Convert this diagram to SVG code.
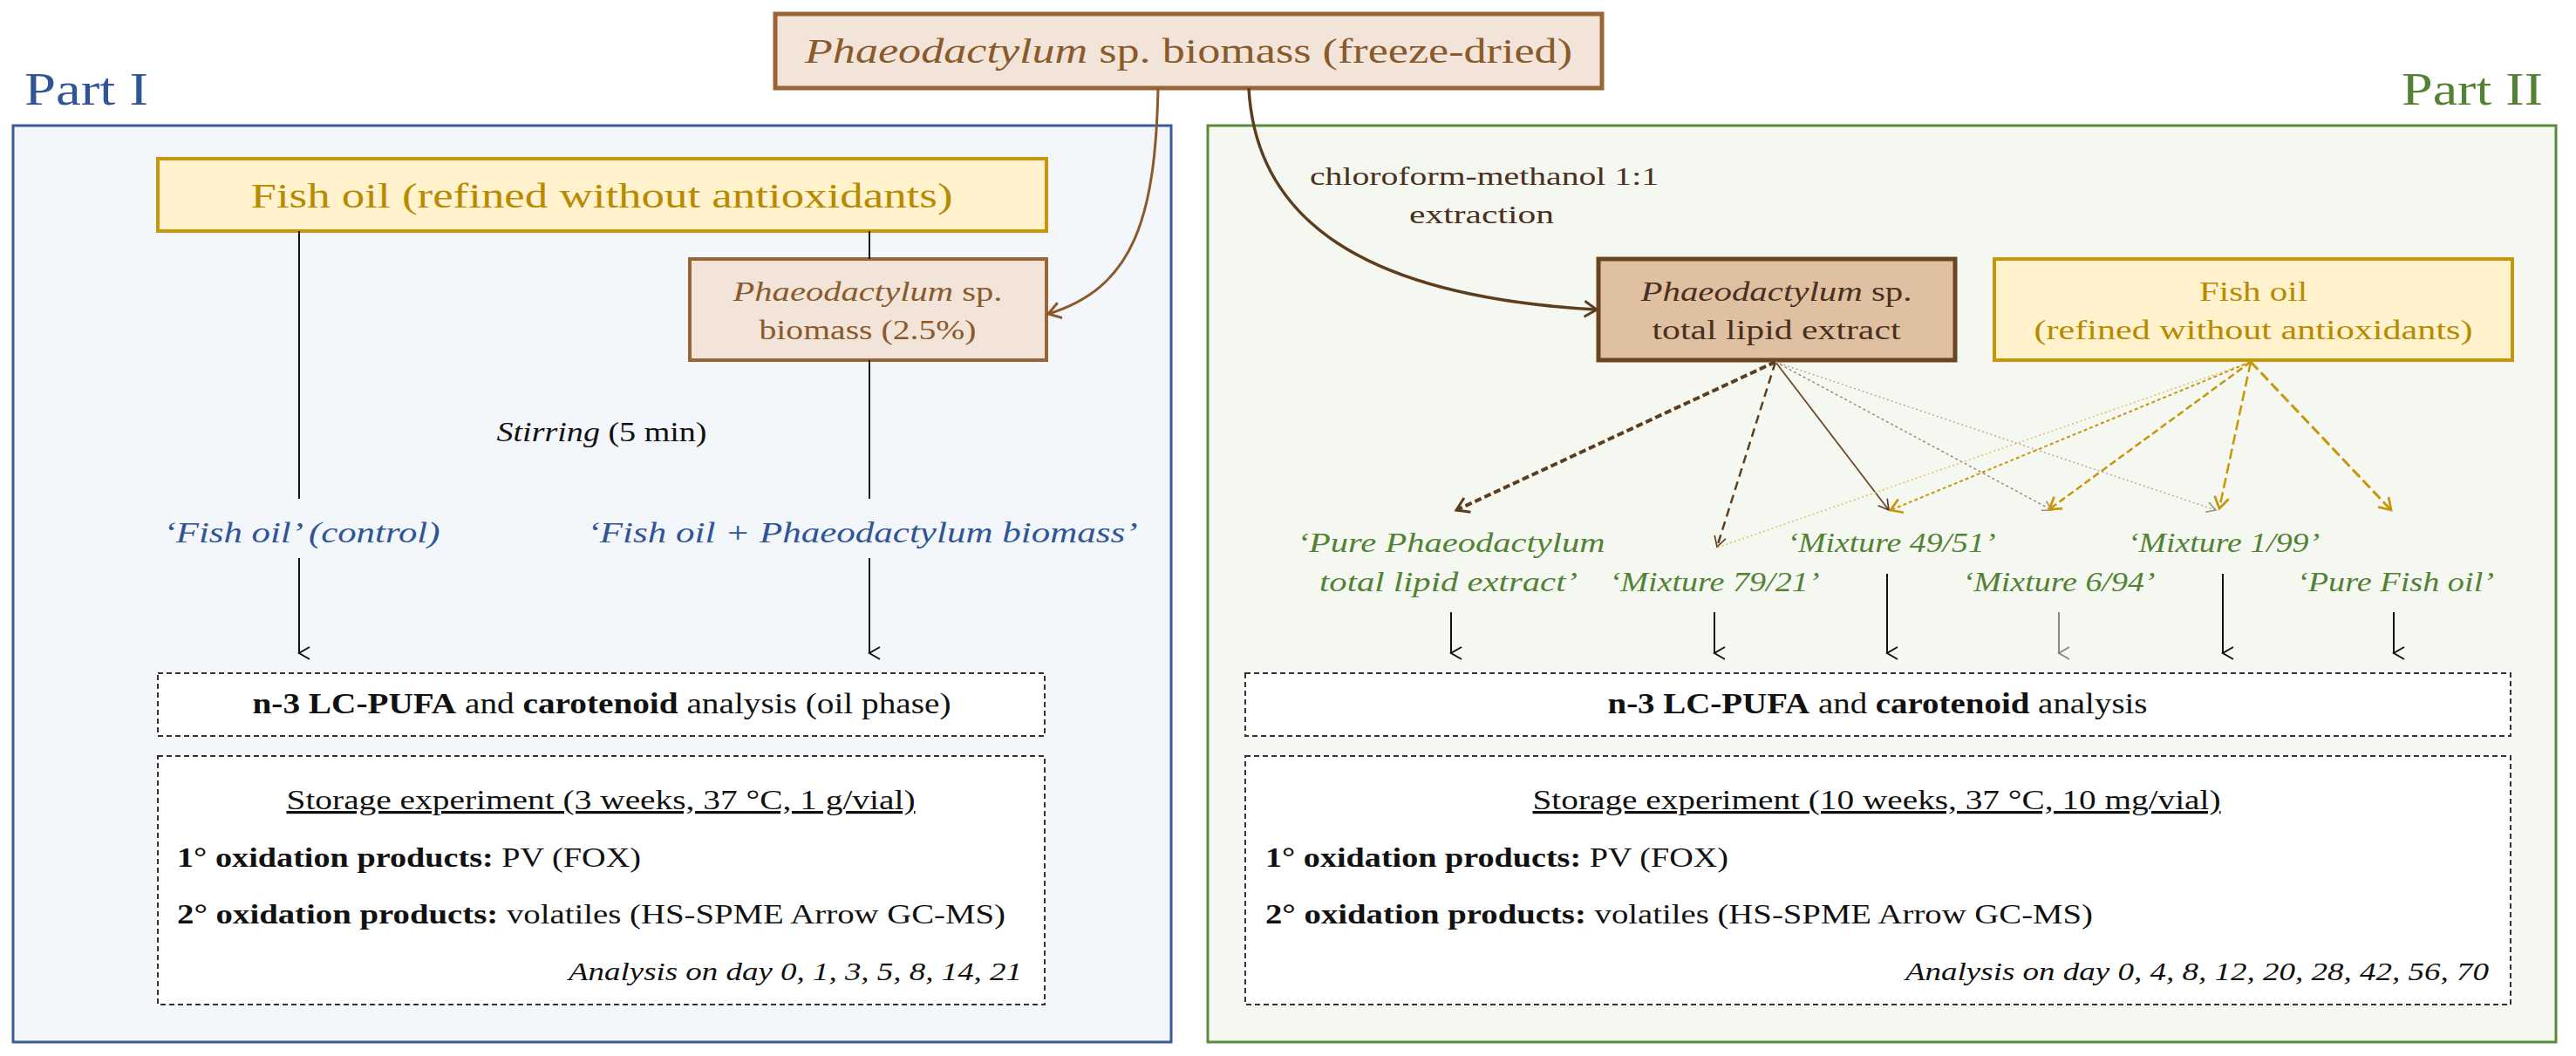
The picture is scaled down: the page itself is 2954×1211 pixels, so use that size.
<svg xmlns="http://www.w3.org/2000/svg" width="2954" height="1211" viewBox="0 0 2954 1211">
<defs>
<style>
text{font-family:"Liberation Serif","DejaVu Serif",serif}
.it{font-style:italic}
.b{font-weight:bold}
.brown{fill:#8b5a2b}
.gold{fill:#b88a00}
.blue{fill:#2f5597}
.green{fill:#548235}
.dk{fill:#4a3020}
.blk{fill:#111}
.dash{fill:#fff;stroke:#333;stroke-width:2;stroke-dasharray:6 4}
</style>
<marker id="aBlk" viewBox="0 0 20 20" refX="10" refY="18" markerWidth="20" markerHeight="20" markerUnits="userSpaceOnUse" orient="auto-start-reverse"><path d="M3,6 L10,18 L17,6" fill="none" stroke="#111" stroke-width="2"/></marker>
<marker id="aGry" viewBox="0 0 20 20" refX="10" refY="18" markerWidth="20" markerHeight="20" markerUnits="userSpaceOnUse" orient="auto"><path d="M3,6 L10,18 L17,6" fill="none" stroke="#888" stroke-width="2"/></marker>
<marker id="aBr" viewBox="0 0 24 24" refX="20" refY="12" markerWidth="24" markerHeight="24" markerUnits="userSpaceOnUse" orient="auto"><path d="M6,3 L20,12 L6,21" fill="none" stroke="#8b5a2b" stroke-width="3"/></marker>
<marker id="aDk" viewBox="0 0 24 24" refX="20" refY="12" markerWidth="24" markerHeight="24" markerUnits="userSpaceOnUse" orient="auto"><path d="M6,3 L20,12 L6,21" fill="none" stroke="#5c3d1e" stroke-width="3"/></marker>
<marker id="aDkS" viewBox="0 0 24 24" refX="20" refY="12" markerWidth="20" markerHeight="20" markerUnits="userSpaceOnUse" orient="auto"><path d="M6,4 L20,12 L6,20" fill="none" stroke="#5c3d1e" stroke-width="2"/></marker>
<marker id="aTan" viewBox="0 0 24 24" refX="20" refY="12" markerWidth="18" markerHeight="18" markerUnits="userSpaceOnUse" orient="auto"><path d="M6,4 L20,12 L6,20" fill="none" stroke="#9a8a7a" stroke-width="2"/></marker>
<marker id="aGd" viewBox="0 0 24 24" refX="20" refY="12" markerWidth="22" markerHeight="22" markerUnits="userSpaceOnUse" orient="auto"><path d="M6,3 L20,12 L6,21" fill="none" stroke="#c8960a" stroke-width="3"/></marker>
<marker id="aLt" viewBox="0 0 24 24" refX="20" refY="12" markerWidth="18" markerHeight="18" markerUnits="userSpaceOnUse" orient="auto"><path d="M6,4 L20,12 L6,20" fill="none" stroke="#e0c060" stroke-width="2"/></marker>
</defs>
<rect width="2954" height="1211" fill="#fff"/>

<g id="panel-left">
<rect x="15" y="144" width="1328" height="1051" fill="#f3f6fb" stroke="#3a5a9a" stroke-width="3"/>
<text x="28" y="120" font-size="52" class="blue" textLength="142" lengthAdjust="spacingAndGlyphs">Part I</text>
</g>
<g id="panel-right">
<rect x="1385" y="144" width="1546" height="1051" fill="#f5f8f1" stroke="#5a8a3a" stroke-width="3"/>
<text x="2916" y="120" font-size="52" text-anchor="end" fill="#548235" textLength="162" lengthAdjust="spacingAndGlyphs">Part II</text>
</g>

<g id="top-biomass">
<rect x="889" y="16" width="948" height="85" fill="#f2e4d8" stroke="#9a6535" stroke-width="5"/>
<text x="1363" y="72" font-size="40" text-anchor="middle" class="brown" textLength="880" lengthAdjust="spacingAndGlyphs"><tspan class="it">Phaeodactylum</tspan> sp. biomass (freeze-dried)</text>
</g>

<g id="fishoil-left">
<rect x="181" y="182" width="1019" height="83" fill="#fff2cc" stroke="#c8960a" stroke-width="4"/>
<text x="690" y="238" font-size="40" text-anchor="middle" class="gold" textLength="805" lengthAdjust="spacingAndGlyphs">Fish oil (refined without antioxidants)</text>
</g>

<g id="biomass-small">
<rect x="791" y="297" width="409" height="116" fill="#f2e4d8" stroke="#9a6535" stroke-width="4"/>
<text x="995" y="345" font-size="32" text-anchor="middle" class="brown" textLength="309" lengthAdjust="spacingAndGlyphs"><tspan class="it">Phaeodactylum</tspan> sp.</text>
<text x="995" y="389" font-size="32" text-anchor="middle" class="brown" textLength="249" lengthAdjust="spacingAndGlyphs">biomass (2.5%)</text>
</g>

<g id="stirring"><text x="690" y="506" font-size="32" text-anchor="middle" class="blk" textLength="241" lengthAdjust="spacingAndGlyphs"><tspan class="it">Stirring</tspan> (5 min)</text></g>

<g id="label-control"><text x="346" y="622" font-size="34" text-anchor="middle" class="blue it" textLength="317" lengthAdjust="spacingAndGlyphs">‘Fish oil’ (control)</text></g>
<g id="label-fob"><text x="989" y="622" font-size="34" text-anchor="middle" class="blue it" textLength="631" lengthAdjust="spacingAndGlyphs">‘Fish oil + Phaeodactylum biomass’</text></g>

<g id="analysis-left">
<rect x="181" y="772" width="1017" height="72" class="dash"/>
<text x="690" y="818" font-size="34" text-anchor="middle" class="blk" textLength="801" lengthAdjust="spacingAndGlyphs"><tspan class="b">n-3 LC-PUFA</tspan> and <tspan class="b">carotenoid</tspan> analysis (oil phase)</text>
</g>
<g id="storage-left">
<rect x="181" y="867" width="1017" height="285" class="dash"/>
<text x="689" y="928" font-size="32" text-anchor="middle" class="blk" text-decoration="underline" textLength="721" lengthAdjust="spacingAndGlyphs">Storage experiment (3 weeks, 37 °C, 1 g/vial)</text>
<text x="203" y="994" font-size="32" class="blk" textLength="532" lengthAdjust="spacingAndGlyphs"><tspan class="b">1° oxidation products:</tspan> PV (FOX)</text>
<text x="203" y="1059" font-size="32" class="blk" textLength="950" lengthAdjust="spacingAndGlyphs"><tspan class="b">2° oxidation products:</tspan> volatiles (HS-SPME Arrow GC-MS)</text>
<text x="1172" y="1124" font-size="30" text-anchor="end" class="blk it" textLength="520" lengthAdjust="spacingAndGlyphs">Analysis on day 0, 1, 3, 5, 8, 14, 21</text>
</g>

<g id="lipid-extract">
<rect x="1833" y="297" width="409" height="116" fill="#dfc0a0" stroke="#6b4423" stroke-width="5"/>
<text x="2037" y="345" font-size="32" text-anchor="middle" class="dk" textLength="311" lengthAdjust="spacingAndGlyphs"><tspan class="it">Phaeodactylum</tspan> sp.</text>
<text x="2037" y="389" font-size="32" text-anchor="middle" class="dk" textLength="285" lengthAdjust="spacingAndGlyphs">total lipid extract</text>
</g>
<g id="fishoil-right">
<rect x="2287" y="297" width="594" height="116" fill="#fff2cc" stroke="#c8960a" stroke-width="4"/>
<text x="2584" y="345" font-size="32" text-anchor="middle" class="gold" textLength="124" lengthAdjust="spacingAndGlyphs">Fish oil</text>
<text x="2584" y="389" font-size="32" text-anchor="middle" class="gold" textLength="503" lengthAdjust="spacingAndGlyphs">(refined without antioxidants)</text>
</g>

<g id="extraction-label">
<text x="1702" y="212" font-size="30" text-anchor="middle" fill="#4a3020" textLength="400" lengthAdjust="spacingAndGlyphs">chloroform-methanol 1:1</text>
<text x="1699" y="256" font-size="30" text-anchor="middle" fill="#4a3020" textLength="166" lengthAdjust="spacingAndGlyphs">extraction</text>
</g>

<g id="mix-labels" class="green it" font-size="32">
<text x="1664" y="633" text-anchor="middle" textLength="353" lengthAdjust="spacingAndGlyphs">‘Pure Phaeodactylum</text>
<text x="1661" y="678" text-anchor="middle" textLength="296" lengthAdjust="spacingAndGlyphs">total lipid extract’</text>
<text x="1966" y="678" text-anchor="middle" textLength="241" lengthAdjust="spacingAndGlyphs">‘Mixture 79/21’</text>
<text x="2169" y="633" text-anchor="middle" textLength="239" lengthAdjust="spacingAndGlyphs">‘Mixture 49/51’</text>
<text x="2361" y="678" text-anchor="middle" textLength="221" lengthAdjust="spacingAndGlyphs">‘Mixture 6/94’</text>
<text x="2550" y="633" text-anchor="middle" textLength="220" lengthAdjust="spacingAndGlyphs">‘Mixture 1/99’</text>
<text x="2747" y="678" text-anchor="middle" textLength="226" lengthAdjust="spacingAndGlyphs">‘Pure Fish oil’</text>
</g>

<g id="analysis-right">
<rect x="1428" y="772" width="1451" height="72" class="dash"/>
<text x="2153" y="818" font-size="34" text-anchor="middle" class="blk" textLength="619" lengthAdjust="spacingAndGlyphs"><tspan class="b">n-3 LC-PUFA</tspan> and <tspan class="b">carotenoid</tspan> analysis</text>
</g>
<g id="storage-right">
<rect x="1428" y="867" width="1451" height="285" class="dash"/>
<text x="2152" y="928" font-size="32" text-anchor="middle" class="blk" text-decoration="underline" textLength="789" lengthAdjust="spacingAndGlyphs">Storage experiment (10 weeks, 37 °C, 10 mg/vial)</text>
<text x="1451" y="994" font-size="32" class="blk" textLength="531" lengthAdjust="spacingAndGlyphs"><tspan class="b">1° oxidation products:</tspan> PV (FOX)</text>
<text x="1451" y="1059" font-size="32" class="blk" textLength="949" lengthAdjust="spacingAndGlyphs"><tspan class="b">2° oxidation products:</tspan> volatiles (HS-SPME Arrow GC-MS)</text>
<text x="2854" y="1124" font-size="30" text-anchor="end" class="blk it" textLength="669" lengthAdjust="spacingAndGlyphs">Analysis on day 0, 4, 8, 12, 20, 28, 42, 56, 70</text>
</g>

<g id="connectors" fill="none">
<!-- part I -->
<line x1="343" y1="265" x2="343" y2="572" stroke="#111" stroke-width="2"/>
<line x1="997" y1="265" x2="997" y2="297" stroke="#111" stroke-width="2"/>
<line x1="997" y1="413" x2="997" y2="572" stroke="#111" stroke-width="2"/>
<line x1="343" y1="640" x2="343" y2="749" stroke="#111" stroke-width="2" marker-end="url(#aBlk)"/>
<line x1="997" y1="640" x2="997" y2="749" stroke="#111" stroke-width="2" marker-end="url(#aBlk)"/>
<path d="M1328,101 C1325,250 1300,330 1202,360" stroke="#8b5a2b" stroke-width="3" marker-end="url(#aBr)"/>
<path d="M1432,101 C1440,250 1560,340 1831,355" stroke="#5c3d1e" stroke-width="3.5" marker-end="url(#aDk)"/>
<!-- part II down arrows -->
<line x1="1664" y1="702" x2="1664" y2="749" stroke="#111" stroke-width="2" marker-end="url(#aBlk)"/>
<line x1="1966" y1="702" x2="1966" y2="749" stroke="#111" stroke-width="2" marker-end="url(#aBlk)"/>
<line x1="2164" y1="658" x2="2164" y2="749" stroke="#111" stroke-width="2" marker-end="url(#aBlk)"/>
<line x1="2361" y1="702" x2="2361" y2="749" stroke="#888" stroke-width="2" marker-end="url(#aGry)"/>
<line x1="2549" y1="658" x2="2549" y2="749" stroke="#111" stroke-width="2" marker-end="url(#aBlk)"/>
<line x1="2745" y1="702" x2="2745" y2="749" stroke="#111" stroke-width="2" marker-end="url(#aBlk)"/>
<!-- lipid fan -->
<line x1="2036" y1="415" x2="1670" y2="585" stroke="#5c3d1e" stroke-width="4" stroke-dasharray="8 4" marker-end="url(#aDk)"/>
<line x1="2036" y1="415" x2="1969" y2="627" stroke="#5c3d1e" stroke-width="2.5" stroke-dasharray="10 6" marker-end="url(#aDkS)"/>
<line x1="2036" y1="415" x2="2166" y2="585" stroke="#6b4a2b" stroke-width="1.8" marker-end="url(#aDkS)"/>
<line x1="2036" y1="415" x2="2353" y2="585" stroke="#9a8a7a" stroke-width="1.5" stroke-dasharray="3 3" marker-end="url(#aTan)"/>
<line x1="2036" y1="415" x2="2541" y2="585" stroke="#b0a090" stroke-width="1.3" stroke-dasharray="2 3" marker-end="url(#aTan)"/>
<!-- fish fan -->
<line x1="2581" y1="415" x2="1969" y2="628" stroke="#e0c060" stroke-width="1.5" stroke-dasharray="2 3"/>
<line x1="2581" y1="415" x2="2168" y2="585" stroke="#c8960a" stroke-width="2" stroke-dasharray="4 3" marker-end="url(#aGd)"/>
<line x1="2581" y1="415" x2="2350" y2="584" stroke="#c8960a" stroke-width="2.5" stroke-dasharray="8 4" marker-end="url(#aGd)"/>
<line x1="2581" y1="415" x2="2545" y2="583" stroke="#c8960a" stroke-width="2.5" stroke-dasharray="12 5" marker-end="url(#aGd)"/>
<line x1="2581" y1="415" x2="2742" y2="585" stroke="#c8960a" stroke-width="3" stroke-dasharray="12 5" marker-end="url(#aGd)"/>
</g>
</svg>
